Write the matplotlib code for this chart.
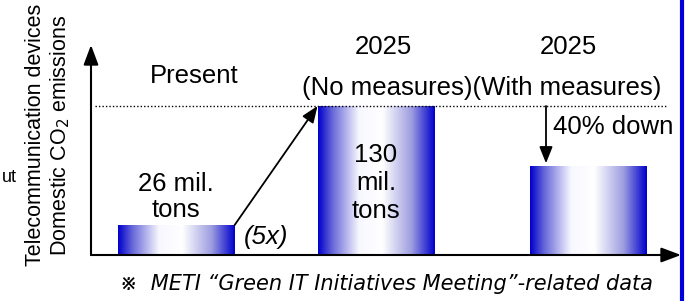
import numpy as np
import matplotlib
matplotlib.use("Agg")
import matplotlib.pyplot as plt
from matplotlib.colors import LinearSegmentedColormap

plt.rcParams['font.family'] = ['Liberation Sans', 'Noto Sans CJK JP', 'DejaVu Sans']

# ---- data ----
categories = ["Present", "2025\n(No measures)", "2025\n(With measures)"]
values = [26, 130, 78]
bar_labels = ["26 mil.\ntons", "130\nmil.\ntons", ""]
ratio_label = "(5x)"
reduction_label = "40% down"
ylabel_lines = ["Telecommunication devices", "Domestic CO$_2$ emissions"]
footnote = "\u203b  METI \u201cGreen IT Initiatives Meeting\u201d-related data"

W, H = 693, 301
fig = plt.figure(figsize=(W / 100, H / 100), dpi=100)

def fx(x):
    return x / W

def fy(y):
    return 1 - y / H

# axes area in pixels
L, R, T, B = 91, 681, 45, 255
ax = fig.add_axes([fx(L), fy(B), (R - L) / W, (B - T) / H])
positions = [0, 1, 2.0625]
width = 0.585
px_per_unit = 200
ymax = (B - T) / 149 * 130

def dx(px):
    return (px - 176) / px_per_unit

def dy(py):
    return (B - py) / (B - T) * ymax

ax.axis('off')

# gradient fill
blue = (0.0, 0.0, 0.80)
cmap = LinearSegmentedColormap.from_list(
    "g", [(0.0, blue), (0.12, (0.40, 0.40, 0.85)), (0.35, (0.97, 0.97, 1.0)),
          (0.55, (1, 1, 1)), (0.80, (0.62, 0.62, 0.88)), (1.0, blue)])
grad = np.linspace(0, 1, 256)[np.newaxis, :]

bars = ax.bar(positions, values, width=width, color='none', edgecolor='none')
for b in bars:
    x0, y0 = b.get_x(), b.get_y()
    im = ax.imshow(grad, cmap=cmap, aspect='auto', interpolation='bicubic',
                   extent=[x0, x0 + b.get_width(), y0, y0 + b.get_height()],
                   zorder=2)
    im.set_clip_path(b)
ax.set_xlim(dx(L), dx(R))
ax.set_ylim(0, ymax)

# axes arrows
arrow_kw = dict(arrowstyle='-|>,head_length=1.2,head_width=0.45',
                color='black', lw=1.5, shrinkA=0, shrinkB=0)
ax.annotate("", xy=(1.0, 0), xytext=(0, 0), xycoords='axes fraction',
            arrowprops=arrow_kw, zorder=5)
ax.annotate("", xy=(0, 1.0), xytext=(0, 0), xycoords='axes fraction',
            arrowprops=arrow_kw, zorder=5)

# dotted reference line at 2025 no-measures level
ax.plot([dx(95), dx(667)], [values[1], values[1]], linestyle=(0, (1, 1.5)),
        color='black', lw=1, zorder=4)

# diagonal arrow bar1 -> bar2
small_arrow = dict(arrowstyle='-|>,head_length=1.0,head_width=0.4',
                   color='black', lw=1.3, shrinkA=0, shrinkB=0)
ax.annotate("", xy=(positions[1] - width / 2, values[1]),
            xytext=(positions[0] + width / 2, values[0]),
            arrowprops=small_arrow, zorder=5)
# down arrow
ax.annotate("", xy=(dx(546), values[2] + 2), xytext=(dx(546), values[1]),
            arrowprops=small_arrow, zorder=5)

fs = 18.5
# category headers
ax.text(dx(194), dy(76), categories[0], ha='center', va='center', fontsize=fs,
        clip_on=False)
for xc, c in zip([383, 568], categories[1:]):
    ax.text(dx(xc), dy(47), c.split("\n")[0], ha='center', va='center',
            fontsize=fs, clip_on=False)
fig.text(fx(482), fy(88), "".join(c.split("\n")[1] for c in categories[1:]),
         ha='center', va='center', fontsize=fs)

# bar labels
ax.text(positions[0], dy(197), bar_labels[0], ha='center', va='center',
        fontsize=fs, linespacing=1.1)
ax.text(positions[1], dy(183), bar_labels[1], ha='center', va='center',
        fontsize=fs, linespacing=1.2, zorder=6)

ax.text(dx(266), dy(237), ratio_label, ha='center', va='center', fontsize=fs,
        style='italic')
ax.text(dx(553), dy(127), reduction_label, ha='left', va='center',
        fontsize=fs, clip_on=False)

# y label
fig.text(fx(36), fy(135), ylabel_lines[0], rotation=90, ha='center',
         va='center', fontsize=15.5)
fig.text(fx(60), fy(135), ylabel_lines[1], rotation=90, ha='center',
         va='center', fontsize=15.5)
fig.text(fx(2), fy(177), "ut", ha='left', va='center', fontsize=13)

# footnote
fig.text(fx(120), fy(284), footnote, ha='left', va='center', fontsize=15,
         style='italic', family=['DejaVu Sans', 'Noto Sans CJK JP'])

# right blue border line
fig.add_artist(plt.Line2D([fx(682), fx(682)], [0, 1], color=(0, 0, 0.86),
                          lw=3, transform=fig.transFigure))

fig.savefig("out.png", dpi=100)
